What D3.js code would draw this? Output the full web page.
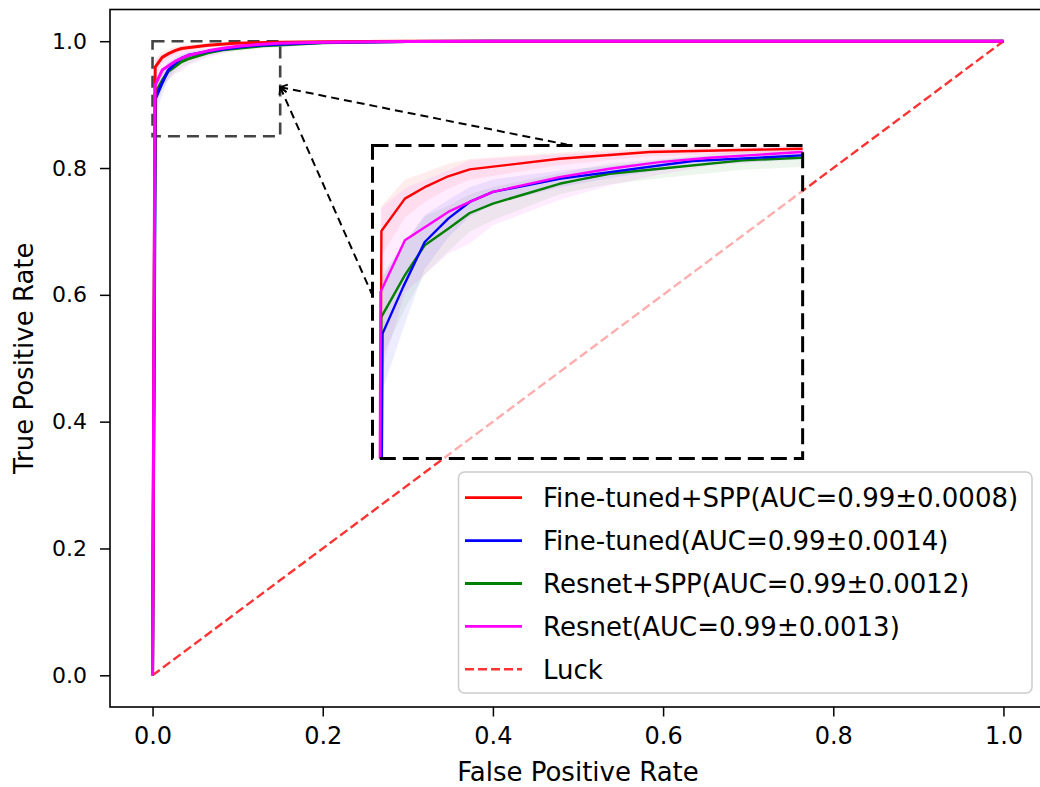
<!DOCTYPE html>
<html>
<head>
<meta charset="utf-8">
<script src="https://cdn.jsdelivr.net/npm/d3@7"></script>
<style>
  body { margin: 0; background: #fff; }
  text { font-family: "DejaVu Sans", sans-serif; fill: #000; }
</style>
</head>
<body>
<div id="roc"></div>
<script>
// ROC curves, mean +- std
const redFpr = [0, 0.0031, 0.0113, 0.0188, 0.0264, 0.0339, 0.0652, 0.0966, 0.1494, 0.2, 0.3, 0.4, 1.0];
const redTpr = [0, 0.959, 0.9745, 0.9804, 0.9852, 0.9885, 0.9936, 0.9968, 0.9984, 0.9993, 0.9998, 1.0, 1.0];
const redStd = [0, 0.012, 0.009, 0.007, 0.006, 0.005, 0.003, 0.002, 0.0015, 0.001, 0.0005, 0, 0];

const blueFpr = [0, 0.0035, 0.0107, 0.0182, 0.0264, 0.0339, 0.042, 0.0652, 0.0827, 0.1117, 0.1494, 0.2, 0.3, 0.4, 1.0];
const blueTpr = [0, 0.9098, 0.9322, 0.9537, 0.9649, 0.9729, 0.9777, 0.984, 0.9872, 0.9925, 0.9952, 0.998, 0.9995, 1.0, 1.0];
const blueStd = [0, 0.027, 0.02, 0.013, 0.009, 0.007, 0.006, 0.004, 0.003, 0.002, 0.002, 0.001, 0.0005, 0, 0];

const greenFpr = [0, 0.0031, 0.0113, 0.0182, 0.0264, 0.0339, 0.042, 0.0652, 0.0722, 0.0827, 0.1001, 0.1291, 0.1494, 0.2, 0.3, 0.4, 1.0];
const greenTpr = [0, 0.9178, 0.9378, 0.9521, 0.9601, 0.9676, 0.9721, 0.9816, 0.9836, 0.9864, 0.9888, 0.9928, 0.9941, 0.9975, 0.9994, 1.0, 1.0];
const greenStd = [0, 0.02, 0.016, 0.014, 0.011, 0.009, 0.008, 0.005, 0.005, 0.005, 0.0045, 0.0045, 0.0045, 0.002, 0.001, 0, 0];

const magentaFpr = [0, 0.0028, 0.0113, 0.0264, 0.0339, 0.042, 0.0652, 0.0827, 0.1001, 0.1175, 0.1494, 0.2, 0.3, 0.4, 1.0];
const magentaTpr = [0, 0.9298, 0.9545, 0.9681, 0.9729, 0.9777, 0.9848, 0.9888, 0.992, 0.9941, 0.9968, 0.9985, 0.9996, 1.0, 1.0];
const magentaStd = [0, 0.04, 0.025, 0.02, 0.02, 0.016, 0.011, 0.008, 0.006, 0.004, 0.003, 0.002, 0.001, 0, 0];

const seriesNames = ["Fine-tuned+SPP(AUC=0.99\u00b10.0008)", "Fine-tuned(AUC=0.99\u00b10.0014)",
                     "Resnet+SPP(AUC=0.99\u00b10.0012)", "Resnet(AUC=0.99\u00b10.0013)"];
const seriesColors = ["red", "blue", "green", "magenta"];
const luckLabel = "Luck";
const tickValues = [0, 0.2, 0.4, 0.6, 0.8, 1.0];

// zoomed region and where the inset sits (in main data coords)
const zoomX = [0, 0.15], zoomY = [0.85, 1.0];
const insetX = [0.2585, 0.764], insetY = [0.342, 0.8357];

const series = [
  {fpr: redFpr, tpr: redTpr, std: redStd},
  {fpr: blueFpr, tpr: blueTpr, std: blueStd},
  {fpr: greenFpr, tpr: greenTpr, std: greenStd},
  {fpr: magentaFpr, tpr: magentaTpr, std: magentaStd}
].map((s, i) => ({
  name: seriesNames[i], color: seriesColors[i],
  pts: s.fpr.map((f, j) => ({x: f, y: s.tpr[j], lo: Math.max(0, s.tpr[j] - s.std[j]), hi: Math.min(1, s.tpr[j] + s.std[j])}))
}));
const drawOrder = [2, 1, 0, 3];

const W = 1040, H = 787;
const svg = d3.select("#roc").append("svg")
    .attr("width", W)
    .attr("height", H);

const x = d3.scaleLinear().domain([-0.05, 1.05]).range([110, 1046]);
const y = d3.scaleLinear().domain([-0.05, 1.05]).range([707, 9.5]);

const defs = svg.append("defs");
defs.append("clipPath").attr("id", "mainClip").append("rect")
    .attr("x", x(-0.05)).attr("y", y(1.05))
    .attr("width", x(1.05) - x(-0.05)).attr("height", y(-0.05) - y(1.05));

defs.append("marker")
    .attr("id", "arrowStart")
    .attr("viewBox", "-1 -6 10 12")
    .attr("markerWidth", 10).attr("markerHeight", 12)
    .attr("markerUnits", "userSpaceOnUse")
    .attr("refX", 0).attr("refY", 0)
    .attr("orient", "auto")
    .append("path")
    .attr("d", "M7,-4 L0,0 L7,4")
    .attr("fill", "none").attr("stroke", "#000").attr("stroke-width", 1.6);

function drawCurves(g, sx, sy, lw) {
  const area = d3.area().x(d => sx(d.x)).y0(d => sy(d.lo)).y1(d => sy(d.hi));
  const line = d3.line().x(d => sx(d.x)).y(d => sy(d.y));
  drawOrder.forEach(i => {
    g.append("path").datum(series[i].pts)
      .attr("d", area)
      .attr("fill", series[i].color)
      .attr("fill-opacity", 0.07);
  });
  drawOrder.forEach(i => {
    g.append("path").datum(series[i].pts)
      .attr("d", line)
      .attr("fill", "none")
      .attr("stroke", series[i].color)
      .attr("stroke-width", lw)
      .attr("stroke-linejoin", "round");
  });
}

// main plot
const main = svg.append("g").attr("clip-path", "url(#mainClip)");
main.append("line")
    .attr("x1", x(0)).attr("y1", y(0)).attr("x2", x(1)).attr("y2", y(1))
    .attr("stroke", "red").attr("stroke-opacity", 0.8)
    .attr("stroke-width", 2.4).attr("stroke-dasharray", "9,4");

// zoom box
main.append("rect")
    .attr("x", x(zoomX[0])).attr("y", y(zoomY[1]))
    .attr("width", x(zoomX[1]) - x(zoomX[0]))
    .attr("height", y(zoomY[0]) - y(zoomY[1]))
    .attr("fill", "none").attr("stroke", "#444")
    .attr("stroke-width", 2.6).attr("stroke-dasharray", "12,7");

drawCurves(main, x, y, 3);

// inset
const ix = d3.scaleLinear().domain(zoomX).range([x(insetX[0]), x(insetX[1])]);
const iy = d3.scaleLinear().domain(zoomY).range([y(insetY[0]), y(insetY[1])]);
defs.append("clipPath").attr("id", "insetClip").append("rect")
    .attr("x", ix(zoomX[0])).attr("y", iy(zoomY[1]))
    .attr("width", ix(zoomX[1]) - ix(zoomX[0])).attr("height", iy(zoomY[0]) - iy(zoomY[1]));

svg.append("rect")
    .attr("x", ix(zoomX[0])).attr("y", iy(zoomY[1]))
    .attr("width", ix(zoomX[1]) - ix(zoomX[0])).attr("height", iy(zoomY[0]) - iy(zoomY[1]))
    .attr("fill", "#fff").attr("fill-opacity", 0.6);

const inset = svg.append("g").attr("clip-path", "url(#insetClip)");
drawCurves(inset, ix, iy, 2.4);

svg.append("rect")
    .attr("x", ix(zoomX[0])).attr("y", iy(zoomY[1]))
    .attr("width", ix(zoomX[1]) - ix(zoomX[0])).attr("height", iy(zoomY[0]) - iy(zoomY[1]))
    .attr("fill", "none").attr("stroke", "#000")
    .attr("stroke-width", 3).attr("stroke-dasharray", "16,7");

// connectors from zoom box to the inset
const connStart = [zoomX[1], 0.9275];
const connEnds = [[0.4867, 0.837], [insetX[0], 0.599]];
connEnds.forEach(e => {
  svg.append("line")
    .attr("x1", x(connStart[0])).attr("y1", y(connStart[1]))
    .attr("x2", x(e[0])).attr("y2", y(e[1]))
    .attr("stroke", "#000").attr("stroke-width", 2)
    .attr("stroke-dasharray", "8,5")
    .attr("marker-start", "url(#arrowStart)");
});

// frame
svg.append("rect")
    .attr("x", x(-0.05)).attr("y", y(1.05))
    .attr("width", x(1.05) - x(-0.05)).attr("height", y(-0.05) - y(1.05))
    .attr("fill", "none").attr("stroke", "#000").attr("stroke-width", 1.6);

// axes
const xAxis = svg.append("g")
    .attr("transform", "translate(0," + y(-0.05) + ")")
    .call(d3.axisBottom(x).tickValues(tickValues).tickFormat(d3.format(".1f"))
      .tickSize(9.5).tickPadding(10.5));
xAxis.select(".domain").remove();
xAxis.selectAll("line").attr("stroke-width", 1.5);
xAxis.selectAll("text").style("font-size", "24px").style("font-family", "DejaVu Sans");

const yAxis = svg.append("g")
    .attr("transform", "translate(" + x(-0.05) + ",0)")
    .call(d3.axisLeft(y).tickValues(tickValues).tickFormat(d3.format(".1f"))
      .tickSize(10).tickPadding(13));
yAxis.select(".domain").remove();
yAxis.selectAll("line").attr("stroke-width", 1.5);
yAxis.selectAll("text").style("font-size", "22px").style("font-family", "DejaVu Sans");

svg.append("text")
    .attr("x", (x(-0.05) + x(1.05)) / 2)
    .attr("y", 781)
    .attr("text-anchor", "middle")
    .style("font-size", "26px")
    .text("False Positive Rate");

svg.append("text")
    .attr("transform", "translate(33," + (y(-0.05) + y(1.05)) / 2 + ") rotate(-90)")
    .attr("text-anchor", "middle")
    .style("font-size", "26px")
    .text("True Positive Rate");

// legend
const legend = svg.append("g");
legend.append("rect")
    .attr("x", 458.5).attr("y", 472).attr("width", 573.5).attr("height", 221)
    .attr("rx", 6)
    .attr("fill", "#fff").attr("fill-opacity", 0.8)
    .attr("stroke", "#ccc").attr("stroke-width", 1.5);

const legendItems = series.map(s => ({name: s.name, color: s.color, dash: null}))
    .concat([{name: luckLabel, color: "red", dash: "9,4"}]);

legendItems.forEach((d, i) => {
  const ry = 497.7 + i * 42.9;
  legend.append("line")
    .attr("x1", 465).attr("x2", 522).attr("y1", ry).attr("y2", ry)
    .attr("stroke", d.color)
    .attr("stroke-opacity", d.dash ? 0.8 : 1)
    .attr("stroke-width", d.dash ? 2.4 : 2.8)
    .attr("stroke-dasharray", d.dash);
  legend.append("text")
    .attr("x", 543).attr("y", ry + 9.5)
    .style("font-size", "26px")
    .text(d.name);
});
</script>
</body>
</html>
